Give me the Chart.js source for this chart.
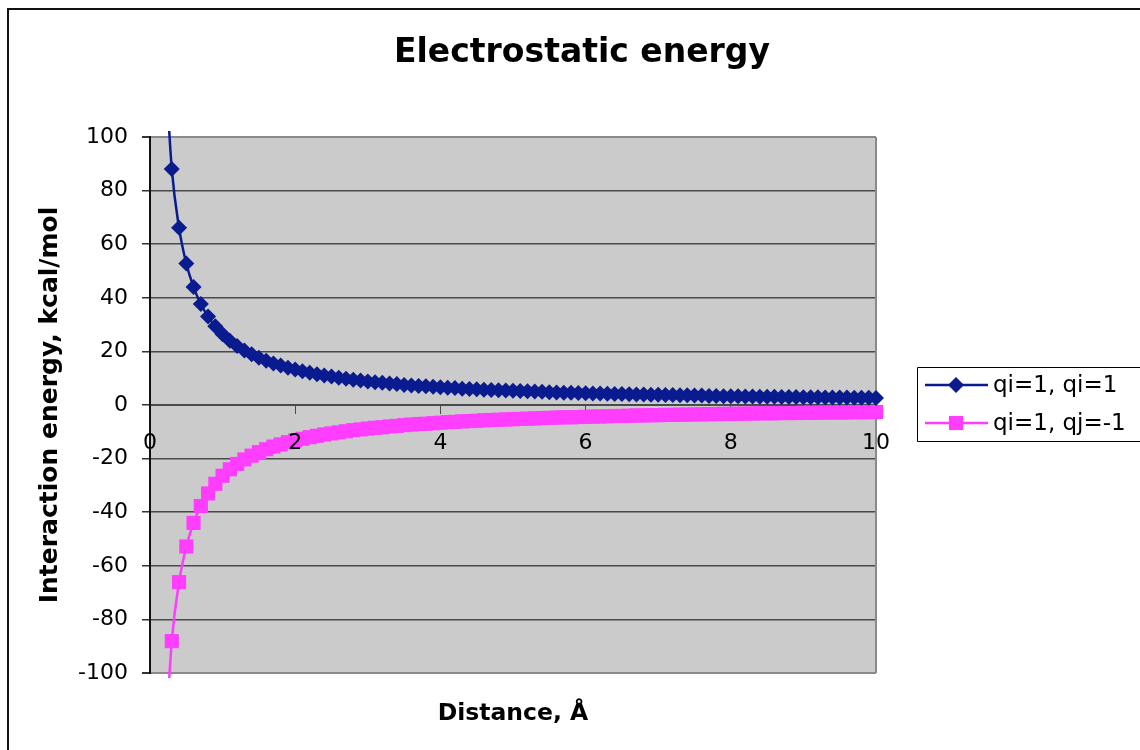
<!DOCTYPE html>
<html>
<head>
<meta charset="utf-8">
<title>Electrostatic energy</title>
<script src="https://cdn.jsdelivr.net/npm/chart.js@4.4.1/dist/chart.umd.min.js"></script>
<style>
  html, body { margin: 0; padding: 0; background: #fff; overflow: hidden; }
  #wrap { width: 1140px; height: 750px; }
  #energyChart { display: block; }
</style>
</head>
<body>
<div id="wrap"><canvas id="energyChart" width="1140" height="750"></canvas></div>
<script>
// Distance in Å
const distances = [
  0.2, 0.3, 0.4, 0.5, 0.6, 0.7, 0.8, 0.9, 1.0,
  1.1, 1.2, 1.3, 1.4, 1.5, 1.6, 1.7, 1.8, 1.9, 2.0,
  2.1, 2.2, 2.3, 2.4, 2.5, 2.6, 2.7, 2.8, 2.9, 3.0,
  3.1, 3.2, 3.3, 3.4, 3.5, 3.6, 3.7, 3.8, 3.9, 4.0,
  4.1, 4.2, 4.3, 4.4, 4.5, 4.6, 4.7, 4.8, 4.9, 5.0,
  5.1, 5.2, 5.3, 5.4, 5.5, 5.6, 5.7, 5.8, 5.9, 6.0,
  6.1, 6.2, 6.3, 6.4, 6.5, 6.6, 6.7, 6.8, 6.9, 7.0,
  7.1, 7.2, 7.3, 7.4, 7.5, 7.6, 7.7, 7.8, 7.9, 8.0,
  8.1, 8.2, 8.3, 8.4, 8.5, 8.6, 8.7, 8.8, 8.9, 9.0,
  9.1, 9.2, 9.3, 9.4, 9.5, 9.6, 9.7, 9.8, 9.9, 10.0
];

// Interaction energy, kcal/mol
const sameCharge = [
  132.1, 88.1, 66.1, 52.8, 44.0, 37.7, 33.0, 29.4, 26.4,
  24.0, 22.0, 20.3, 18.9, 17.6, 16.5, 15.5, 14.7, 13.9, 13.2,
  12.6, 12.0, 11.5, 11.0, 10.6, 10.2, 9.8, 9.4, 9.1, 8.8,
  8.5, 8.3, 8.0, 7.8, 7.5, 7.3, 7.1, 7.0, 6.8, 6.6,
  6.4, 6.3, 6.1, 6.0, 5.9, 5.7, 5.6, 5.5, 5.4, 5.3,
  5.2, 5.1, 5.0, 4.9, 4.8, 4.7, 4.6, 4.6, 4.5, 4.4,
  4.3, 4.3, 4.2, 4.1, 4.1, 4.0, 3.9, 3.9, 3.8, 3.8,
  3.7, 3.7, 3.6, 3.6, 3.5, 3.5, 3.4, 3.4, 3.3, 3.3,
  3.3, 3.2, 3.2, 3.1, 3.1, 3.1, 3.0, 3.0, 3.0, 2.9,
  2.9, 2.9, 2.8, 2.8, 2.8, 2.8, 2.7, 2.7, 2.7, 2.6
];

const oppositeCharge = [
  -132.1, -88.1, -66.1, -52.8, -44.0, -37.7, -33.0, -29.4, -26.4,
  -24.0, -22.0, -20.3, -18.9, -17.6, -16.5, -15.5, -14.7, -13.9, -13.2,
  -12.6, -12.0, -11.5, -11.0, -10.6, -10.2, -9.8, -9.4, -9.1, -8.8,
  -8.5, -8.3, -8.0, -7.8, -7.5, -7.3, -7.1, -7.0, -6.8, -6.6,
  -6.4, -6.3, -6.1, -6.0, -5.9, -5.7, -5.6, -5.5, -5.4, -5.3,
  -5.2, -5.1, -5.0, -4.9, -4.8, -4.7, -4.6, -4.6, -4.5, -4.4,
  -4.3, -4.3, -4.2, -4.1, -4.1, -4.0, -3.9, -3.9, -3.8, -3.8,
  -3.7, -3.7, -3.6, -3.6, -3.5, -3.5, -3.4, -3.4, -3.3, -3.3,
  -3.3, -3.2, -3.2, -3.1, -3.1, -3.1, -3.0, -3.0, -3.0, -2.9,
  -2.9, -2.9, -2.8, -2.8, -2.8, -2.8, -2.7, -2.7, -2.7, -2.6
];

const seriesLabels = ['qi=1, qi=1', 'qi=1, qj=-1'];
const xTicks = [0, 2, 4, 6, 8, 10];
const yTicks = [-100, -80, -60, -40, -20, 0, 20, 40, 60, 80, 100];

const FONT = '"DejaVu Sans", Verdana, sans-serif';
const BLUE = '#0a1a8f';
const PINK = '#ff3dff';

// Background, frame, title, x title and legend drawn around the plot
const chartDecor = {
  id: 'chartDecor',
  beforeDraw(chart) {
    const { ctx, chartArea: a } = chart;
    ctx.save();
    ctx.fillStyle = '#fff';
    ctx.fillRect(0, 0, chart.width, chart.height);
    ctx.fillStyle = '#cbcbcb';
    ctx.fillRect(a.left, a.top, a.right - a.left, a.bottom - a.top);
    ctx.restore();
  },
  beforeDatasetsDraw(chart) {
    const { ctx, chartArea: a } = chart;
    ctx.save();
    ctx.strokeStyle = '#8a8a8a';
    ctx.lineWidth = 2;
    ctx.beginPath();
    ctx.moveTo(a.right, a.top);
    ctx.lineTo(a.right, a.bottom);
    ctx.stroke();
    ctx.restore();
  },
  afterDraw(chart) {
    const { ctx, chartArea: a } = chart;
    ctx.save();

    // outer chart frame: only its top and left edges are inside the picture
    ctx.strokeStyle = '#111';
    ctx.lineWidth = 2;
    ctx.beginPath();
    ctx.moveTo(8, chart.height + 20);
    ctx.lineTo(8, 9);
    ctx.lineTo(chart.width + 20, 9);
    ctx.stroke();

    ctx.fillStyle = '#000';
    ctx.textAlign = 'center';
    ctx.textBaseline = 'middle';
    ctx.font = 'bold 33px ' + FONT;
    ctx.fillText('Electrostatic energy', 582, 53);

    ctx.font = 'bold 23.5px ' + FONT;
    ctx.fillText('Distance, Å', (a.left + a.right) / 2, 714);

    // legend
    ctx.strokeStyle = '#000';
    ctx.lineWidth = 1;
    ctx.beginPath();
    ctx.moveTo(chart.width + 20, 367.5);
    ctx.lineTo(917.5, 367.5);
    ctx.lineTo(917.5, 441.5);
    ctx.lineTo(chart.width + 20, 441.5);
    ctx.stroke();

    const rows = [
      { y: 385, color: BLUE, style: 'rectRot', radius: 8 },
      { y: 423, color: PINK, style: 'rect', radius: 10 }
    ];
    rows.forEach((r, i) => {
      ctx.strokeStyle = r.color;
      ctx.lineWidth = 2.5;
      ctx.beginPath();
      ctx.moveTo(925, r.y);
      ctx.lineTo(988, r.y);
      ctx.stroke();
      ctx.fillStyle = r.color;
      Chart.helpers.drawPoint(ctx, { pointStyle: r.style, radius: r.radius, rotation: 0, borderWidth: 0 }, 956, r.y);
      ctx.fillStyle = '#000';
      ctx.textAlign = 'left';
      ctx.font = '23px ' + FONT;
      ctx.fillText(seriesLabels[i], 993, r.y + 1);
    });

    ctx.restore();
  }
};

const lineClip = { left: 10, top: 6, right: 10, bottom: 5 };

new Chart(document.getElementById('energyChart').getContext('2d'), {
  type: 'line',
  data: {
    datasets: [
      {
        label: seriesLabels[0],
        data: distances.map((d, i) => ({ x: d, y: sameCharge[i] })),
        borderColor: BLUE,
        backgroundColor: BLUE,
        borderWidth: 2.5,
        pointStyle: 'rectRot',
        pointRadius: 8,
        pointBorderWidth: 0,
        cubicInterpolationMode: 'monotone',
        clip: lineClip
      },
      {
        label: seriesLabels[1],
        data: distances.map((d, i) => ({ x: d, y: oppositeCharge[i] })),
        borderColor: PINK,
        backgroundColor: PINK,
        borderWidth: 2.5,
        pointStyle: 'rect',
        pointRadius: 10,
        pointBorderWidth: 0,
        cubicInterpolationMode: 'monotone',
        clip: lineClip
      }
    ]
  },
  options: {
    responsive: false,
    devicePixelRatio: 1,
    animation: false,
    events: [],
    layout: { padding: { left: 0, top: 137, right: 264, bottom: 77 } },
    plugins: {
      legend: { display: false },
      tooltip: { enabled: false },
      title: { display: false }
    },
    scales: {
      x: {
        type: 'linear',
        position: { y: 0 },
        min: 0,
        max: 10,
        afterBuildTicks: s => { s.ticks = xTicks.map(v => ({ value: v })); },
        grid: { drawOnChartArea: false, drawTicks: true, tickLength: 8, color: '#4a4a4a', lineWidth: 1 },
        border: { display: true, color: '#4a4a4a', width: 1 },
        // z: 1 puts the tick labels over the series, as in the original
        ticks: { z: 1, color: '#000', font: { family: FONT, size: 22 }, padding: 17, maxRotation: 0, autoSkip: false }
      },
      y: {
        type: 'linear',
        position: 'left',
        min: -100,
        max: 100,
        afterBuildTicks: s => { s.ticks = yTicks.map(v => ({ value: v })); },
        afterFit: s => { s.width = 150; },
        grid: {
          color: c => (c.tick && Math.abs(c.tick.value) === 100) ? '#8a8a8a' : '#4a4a4a',
          tickColor: '#333',
          lineWidth: c => (c.tick && Math.abs(c.tick.value) === 100) ? 2 : 1.5,
          tickLength: 8
        },
        border: { display: true, color: '#111', width: 2 },
        ticks: { color: '#000', font: { family: FONT, size: 22 }, padding: 14 },
        title: {
          display: true,
          text: 'Interaction energy, kcal/mol',
          color: '#000',
          font: { family: FONT, size: 25, weight: 'bold' },
          padding: { top: 35, bottom: 0 }
        }
      }
    }
  },
  plugins: [chartDecor]
});
</script>
</body>
</html>
